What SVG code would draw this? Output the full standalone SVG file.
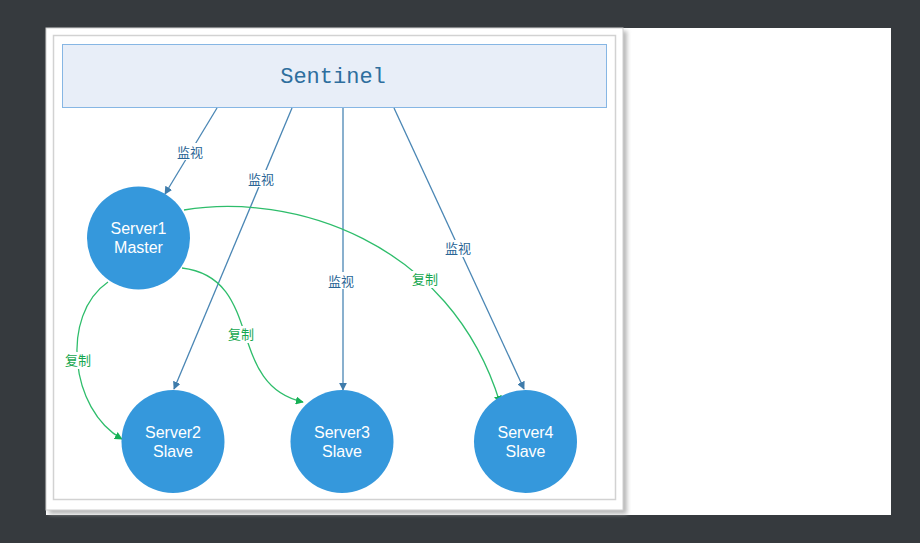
<svg xmlns="http://www.w3.org/2000/svg" width="920" height="543" viewBox="0 0 920 543">
<style>
.node circle{fill:#3598dc}
.node text{fill:#ffffff;font-family:"Liberation Sans",Arial,sans-serif;font-size:16px;text-anchor:middle}
.mon{stroke:#4a86b4;stroke-width:1.3;fill:none}
.rep{stroke:#2ebd6b;stroke-width:1.3;fill:none}
.lbl{font-family:"Noto Sans CJK SC",sans-serif;font-size:13px;text-anchor:middle}
.lm{fill:#2a6596}
.lr{fill:#16a74f}
.bg{fill:#ffffff}
</style>
<defs>
<marker id="am" viewBox="0 0 10 10" refX="9" refY="5" markerWidth="8" markerHeight="8" markerUnits="userSpaceOnUse" orient="auto"><path d="M0,0 L10,5 L0,10 Z" fill="#3f7cab"/></marker>
<marker id="ar" viewBox="0 0 10 10" refX="9" refY="5" markerWidth="8" markerHeight="8" markerUnits="userSpaceOnUse" orient="auto"><path d="M0,0 L10,5 L0,10 Z" fill="#16b055"/></marker>
<filter id="sh" x="-5%" y="-5%" width="110%" height="110%"><feGaussianBlur stdDeviation="2"/></filter>
</defs>
<rect width="920" height="543" fill="#363a3e"/>
<rect x="46" y="28" width="845" height="487" fill="#ffffff"/>
<rect x="49" y="31" width="578" height="483" fill="#b8b8b8" filter="url(#sh)"/>
<rect x="46" y="28" width="577" height="482" fill="#ffffff" stroke="#cfcfcf" stroke-width="1"/>
<rect x="53.5" y="35.5" width="562" height="464" fill="#ffffff" stroke="#d2d2d2" stroke-width="1.5"/>
<g id="sentinel">
<rect x="62.5" y="44.5" width="544" height="63" fill="#e8eef8" stroke="#86b6e4" stroke-width="1"/>
<text x="333" y="83" fill="#2e6e9e" font-family="Liberation Mono,monospace" font-size="22" text-anchor="middle">Sentinel</text>
</g>
<g id="connectors">
<path class="mon" d="M217,108 L165,194" marker-end="url(#am)"/>
<path class="mon" d="M292,108 L174,389" marker-end="url(#am)"/>
<path class="mon" d="M343,108 L343,390" marker-end="url(#am)"/>
<path class="mon" d="M394,108 L524,389" marker-end="url(#am)"/>
<path class="rep" d="M184,210 C290,192 450,240 500,403" marker-end="url(#ar)"/>
<path class="rep" d="M182,268 C265,278 225,385 303,402" marker-end="url(#ar)"/>
<path class="rep" d="M108,282 C60,315 70,410 122,439" marker-end="url(#ar)"/>
<rect class="bg" x="175" y="143" width="30" height="17"/>
<text class="lbl lm" x="190" y="157">监视</text>
<rect class="bg" x="246" y="170" width="30" height="17"/>
<text class="lbl lm" x="261" y="184">监视</text>
<rect class="bg" x="326" y="272" width="30" height="17"/>
<text class="lbl lm" x="341" y="286">监视</text>
<rect class="bg" x="443" y="240" width="30" height="17"/>
<text class="lbl lm" x="458" y="253">监视</text>
<rect class="bg" x="410" y="271" width="30" height="17"/>
<text class="lbl lr" x="425" y="284">复制</text>
<rect class="bg" x="226" y="326" width="30" height="17"/>
<text class="lbl lr" x="241" y="339">复制</text>
<rect class="bg" x="63" y="352" width="30" height="17"/>
<text class="lbl lr" x="78" y="365">复制</text>
</g>
<g id="server1" class="node"><circle cx="138.5" cy="238" r="51.5"/><text x="138.5" y="234">Server1</text><text x="138.5" y="253">Master</text></g>
<g id="server2" class="node"><circle cx="173" cy="441.5" r="51.5"/><text x="173" y="438">Server2</text><text x="173" y="457">Slave</text></g>
<g id="server3" class="node"><circle cx="342" cy="441.5" r="51.5"/><text x="342" y="438">Server3</text><text x="342" y="457">Slave</text></g>
<g id="server4" class="node"><circle cx="525.5" cy="441.5" r="51.5"/><text x="525.5" y="438">Server4</text><text x="525.5" y="457">Slave</text></g>
</svg>
